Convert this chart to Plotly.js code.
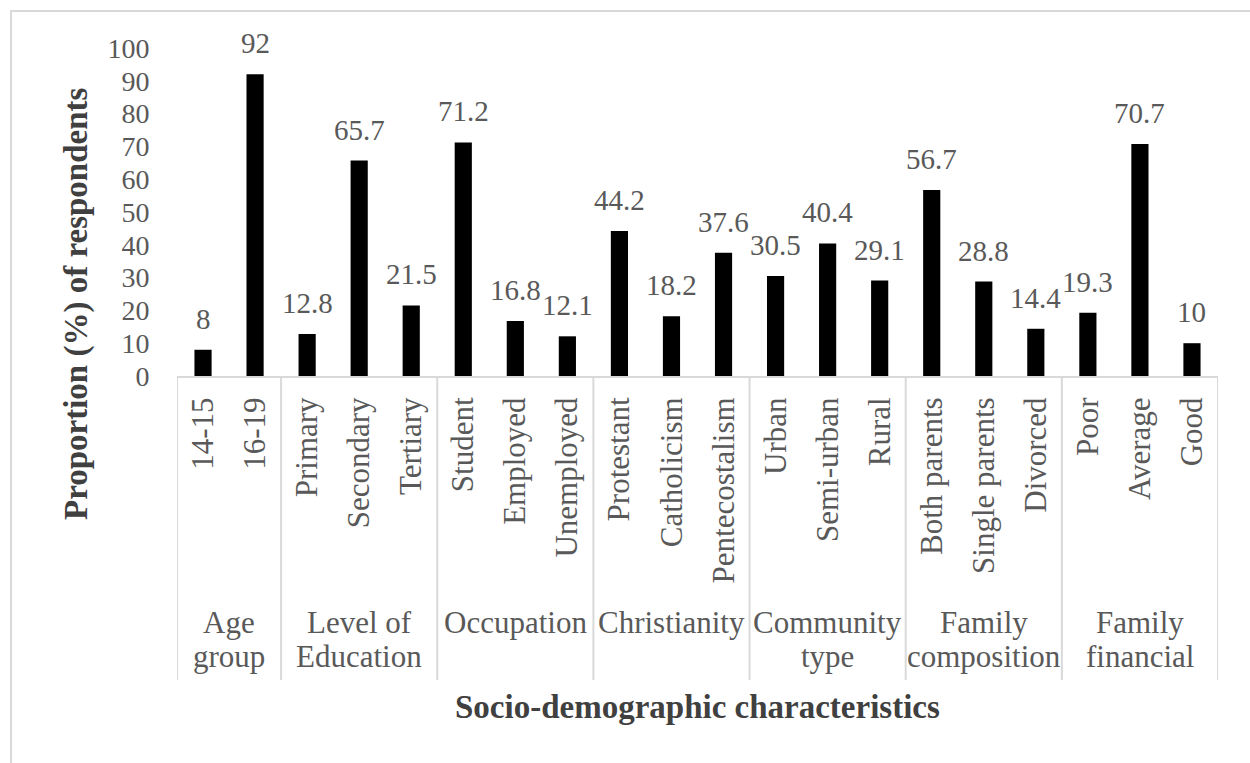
<!DOCTYPE html>
<html>
<head>
<meta charset="utf-8">
<script src="https://cdn.plot.ly/plotly-3.0.1.min.js"></script>
<style>
  html, body { margin: 0; padding: 0; background: #fff; }
  #chart { width: 1250px; height: 763px; }
  #frame { position: absolute; left: 10px; top: 10px; width: 1260px; height: 800px;
           border-left: 2px solid #d9d9d9; border-top: 2px solid #d9d9d9; pointer-events: none; }
</style>
</head>
<body>
<div id="chart"></div>
<div id="frame"></div>
<script>
// ---- data ----
const categories = ["14-15", "16-19", "Primary", "Secondary", "Tertiary", "Student", "Employed", "Unemployed",
  "Protestant", "Catholicism", "Pentecostalism", "Urban", "Semi-urban", "Rural",
  "Both parents", "Single parents", "Divorced", "Poor", "Average", "Good"];
const values = [8, 92, 12.8, 65.7, 21.5, 71.2, 16.8, 12.1, 44.2, 18.2, 37.6, 30.5, 40.4, 29.1, 56.7, 28.8, 14.4, 19.3, 70.7, 10];
const valueLabels = ["8", "92", "12.8", "65.7", "21.5", "71.2", "16.8", "12.1", "44.2", "18.2", "37.6", "30.5", "40.4", "29.1", "56.7", "28.8", "14.4", "19.3", "70.7", "10"];
const groupNames = ["Age<br>group", "Level of<br>Education", "Occupation", "Christianity", "Community<br>type", "Family<br>composition", "Family<br>financial"];
const groupSizes = [2, 3, 3, 3, 3, 3, 3];
const yTicks = [0, 10, 20, 30, 40, 50, 60, 70, 80, 90, 100];

// ---- style ----
const FONT = "'Liberation Serif', 'Times New Roman', serif";
const GRAY = "#595959";
const TITLE = "#404040";
const LINE = "#d9d9d9";

const W = 1250, H = 763;
const margin = { l: 177, r: 32, t: 48, b: 387 };
const plotH = H - margin.t - margin.b;
const px2paper = (px) => -px / plotH; // pixels below the x axis -> paper y

const xIdx = categories.map((_, i) => i);

const trace = {
  type: "bar",
  x: xIdx,
  y: values,
  width: 0.33,
  marker: { color: "#000000", line: { width: 0 } },
  hoverinfo: "skip"
};

const annotations = [];
values.forEach((v, i) => {
  annotations.push({
    x: i, y: v, xref: "x", yref: "y", text: valueLabels[i], showarrow: false,
    yanchor: "bottom", xanchor: "center", yshift: 13,
    font: { family: FONT, size: 29, color: GRAY }
  });
});

const shapes = [];
let start = 0;
shapes.push({ type: "line", xref: "x", yref: "paper", x0: -0.5, x1: -0.5, y0: 0, y1: px2paper(304),
  line: { color: LINE, width: 2 } });
groupSizes.forEach((n, g) => {
  const center = start + (n - 1) / 2;
  groupNames[g].split("<br>").forEach((line, k) => {
    annotations.push({
      x: center, y: px2paper(227 + 34 * k), xref: "x", yref: "paper", text: line, showarrow: false,
      yanchor: "top", xanchor: "center",
      font: { family: FONT, size: 31, color: GRAY }
    });
  });
  const end = start + n - 0.5;
  shapes.push({ type: "line", xref: "x", yref: "paper", x0: end, x1: end, y0: 0, y1: px2paper(304),
    line: { color: LINE, width: 2 } });
  start += n;
});

annotations.push({
  x: 0.5, y: px2paper(331), xref: "paper", yref: "paper", text: "<b>Socio-demographic characteristics</b>",
  showarrow: false, xanchor: "center", yanchor: "middle",
  font: { family: FONT, size: 33, color: TITLE }
});
annotations.push({
  x: -(177 - 76) / (W - margin.l - margin.r), y: (376 - 304) / plotH, xref: "paper", yref: "paper",
  text: "<b>Proportion (%) of respondents</b>", textangle: -90,
  showarrow: false, xanchor: "center", yanchor: "middle",
  font: { family: FONT, size: 33, color: TITLE }
});

const layout = {
  width: W, height: H,
  margin: margin,
  paper_bgcolor: "#ffffff",
  plot_bgcolor: "#ffffff",
  showlegend: false,
  font: { family: FONT },
  xaxis: {
    type: "linear",
    range: [-0.5, categories.length - 0.5],
    tickmode: "array",
    tickvals: xIdx,
    ticktext: categories,
    tickangle: -90,
    ticks: "outside", ticklen: 7, tickcolor: "rgba(0,0,0,0)",
    tickfont: { family: FONT, size: 31, color: GRAY },
    showgrid: false, zeroline: false,
    showline: true, linecolor: LINE, linewidth: 2,
    fixedrange: true
  },
  yaxis: {
    range: [0, 100],
    tickmode: "array",
    tickvals: yTicks,
    ticktext: yTicks.map(String),
    ticks: "outside", ticklen: 21, tickcolor: "rgba(0,0,0,0)",
    tickfont: { family: FONT, size: 28, color: GRAY },
    showgrid: false, zeroline: false, showline: false,
    fixedrange: true
  },
  shapes: shapes,
  annotations: annotations
};

Plotly.newPlot("chart", [trace], layout, { displayModeBar: false, staticPlot: true });
</script>
</body>
</html>
